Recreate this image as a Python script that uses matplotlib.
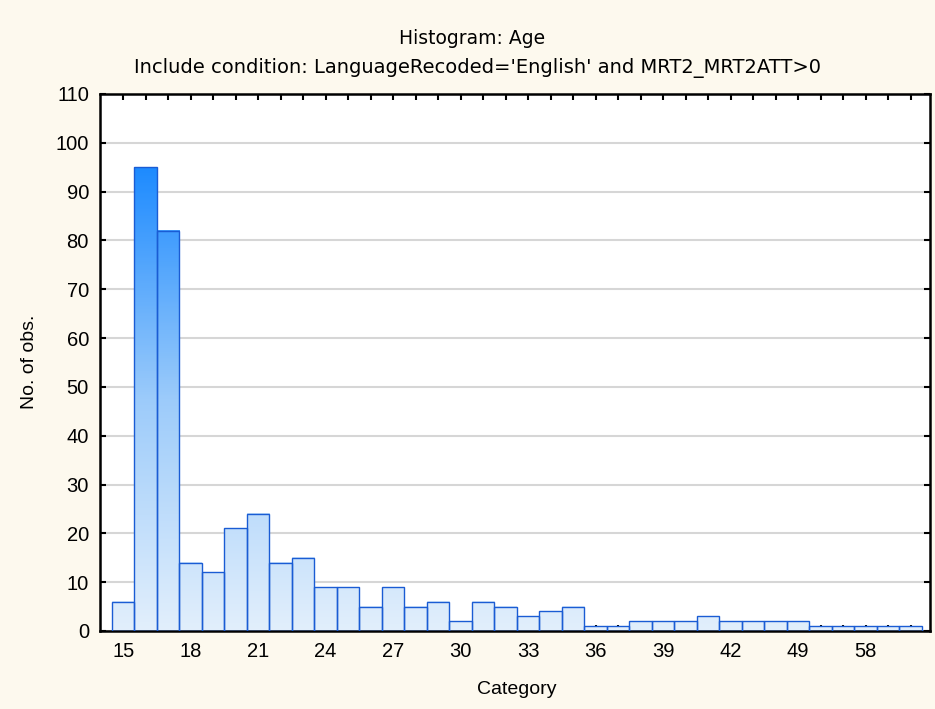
import numpy as np
import matplotlib
matplotlib.use('Agg')
import matplotlib.pyplot as plt
from matplotlib.colors import LinearSegmentedColormap

plt.rcParams['font.family'] = ['Liberation Sans', 'DejaVu Sans']

# 数据
categories = list(range(15, 43)) + [44, 46, 49, 52, 55, 58, 61, 65]
counts = [6, 95, 82, 14, 12, 21, 24, 14, 15, 9, 9, 5, 9, 5, 6, 2, 6, 5,
          3, 4, 5, 1, 1, 2, 2, 2, 3, 2, 2, 2, 2, 1, 1, 1, 1, 1]
label_every = 3
y_ticks = list(range(0, 111, 10))

bg = '#FDF9EE'
cmap = LinearSegmentedColormap.from_list('stat', ['#E2EFFC', '#9CCBFA', '#1E8BFF'])
vmax = max(counts)

fig = plt.figure(figsize=(9.35, 7.09), dpi=100, facecolor=bg)
ax = fig.add_axes([100/935, 1 - 631/709, 830/935, 537/709])
ax.set_facecolor('white')

x = np.arange(len(categories))
bars = ax.bar(x, counts, width=1.0, facecolor='none', edgecolor='#1A5CD4',
              linewidth=1.0, zorder=3)

# 渐变填充
for b, h in zip(bars, counts):
    grad = np.linspace(0, h / vmax, 200).reshape(-1, 1)
    x0 = b.get_x()
    ax.imshow(grad, extent=[x0, x0 + b.get_width(), 0, h], origin='lower',
              cmap=cmap, vmin=0, vmax=1, aspect='auto', zorder=2)

ax.set_xlim(-1.03, len(categories) - 0.5 + 0.36)
ax.set_ylim(0, 110)
ax.set_yticks(y_ticks)
ax.yaxis.grid(True, color='#D6D6D6', linewidth=1.5, zorder=0)
ax.set_axisbelow(True)

ax.set_xticks(x)
ax.set_xticklabels([str(c) if i % label_every == 0 else '' for i, c in enumerate(categories)])
ax.tick_params(axis='x', direction='in', length=4, width=1.5, top=True,
               labelsize=14.5, pad=8)
ax.tick_params(axis='y', direction='in', length=4, width=1.5, right=True,
               labelsize=14.5, pad=8)

for s in ax.spines.values():
    s.set_linewidth(1.8)
    s.set_color('black')

fig.text(472/935, 1 - 38/709, 'Histogram: Age', ha='center', va='center',
         fontsize=13.5, family=['DejaVu Sans'])
fig.text(477/935, 1 - 68/709, "Include condition: LanguageRecoded='English' and MRT2_MRT2ATT>0",
         ha='center', va='center', fontsize=14, family=['DejaVu Sans'])
fig.text(517/935, 1 - 690/709, 'Category', ha='center', va='center', fontsize=14)
fig.text(30/935, 1 - 362/709, 'No. of obs.', ha='center', va='center',
         rotation=90, fontsize=14)

plt.savefig('out.png', dpi=100, facecolor=bg)
